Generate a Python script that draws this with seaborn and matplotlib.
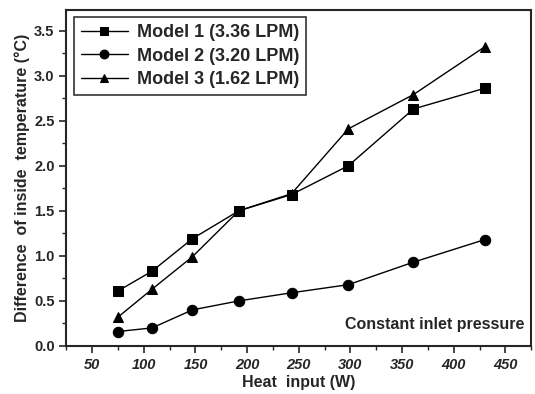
import pandas as pd
import matplotlib.pyplot as plt
import seaborn as sns
from matplotlib.ticker import MultipleLocator

heat = [75, 108, 147, 192, 243, 298, 361, 430]
model1 = [0.61, 0.83, 1.19, 1.50, 1.68, 2.00, 2.63, 2.86]
model2 = [0.16, 0.20, 0.40, 0.50, 0.59, 0.68, 0.93, 1.18]
model3 = [0.32, 0.63, 0.99, 1.50, 1.69, 2.41, 2.79, 3.32]
names = ["Model 1 (3.36 LPM)", "Model 2 (3.20 LPM)", "Model 3 (1.62 LPM)"]

df = pd.DataFrame({
    "heat": heat * 3,
    "dT": model1 + model2 + model3,
    "model": [names[0]] * 8 + [names[1]] * 8 + [names[2]] * 8,
})

sns.set_style("ticks")
plt.rcParams["font.family"] = ["Liberation Sans", "DejaVu Sans"]
plt.rcParams["axes.linewidth"] = 1.5

fig = plt.figure(figsize=(5.35, 3.94), dpi=100)
ax = fig.add_axes([0.124, 0.122, 0.869, 0.853])

sns.lineplot(data=df, x="heat", y="dT", hue="model", style="model",
             markers=["s", "o", "^"], dashes=False,
             palette=["black"] * 3, markersize=7.5, linewidth=1.0,
             markeredgecolor="black", ax=ax)

ax.set_xlim(25, 475)
ax.set_ylim(0, 3.73)
ax.xaxis.set_major_locator(MultipleLocator(50))
ax.xaxis.set_minor_locator(MultipleLocator(25))
ax.yaxis.set_major_locator(MultipleLocator(0.5))
ax.yaxis.set_minor_locator(MultipleLocator(0.25))
ax.yaxis.set_major_formatter(plt.FormatStrFormatter("%.1f"))
ax.tick_params(which="major", length=5, width=1.2, labelsize=10.5)
ax.tick_params(which="minor", length=3, width=1)
for lab in ax.get_xticklabels():
    lab.set_fontweight("bold")
    lab.set_fontstyle("italic")
for lab in ax.get_yticklabels():
    lab.set_fontweight("bold")
ax.set_xlabel("Heat  input (W)", fontsize=11.5, fontweight="bold", labelpad=2)
ax.set_ylabel("Difference  of inside  temperature (°C)", fontsize=11.5,
              fontweight="bold", labelpad=3)

ax.text(0.985, 0.04, "Constant inlet pressure", transform=ax.transAxes,
        ha="right", va="bottom", fontsize=11.5, fontweight="bold")

leg = ax.legend(loc="upper left", frameon=True, fancybox=False,
                edgecolor="black", prop={"weight": "bold", "size": 13},
                handlelength=2.6, borderaxespad=0.4, labelspacing=0.35,
                handletextpad=0.5, markerscale=0.85,
                bbox_to_anchor=(0.0, 1.0))
leg.get_frame().set_linewidth(1.2)

plt.savefig("out.png", dpi=100)
